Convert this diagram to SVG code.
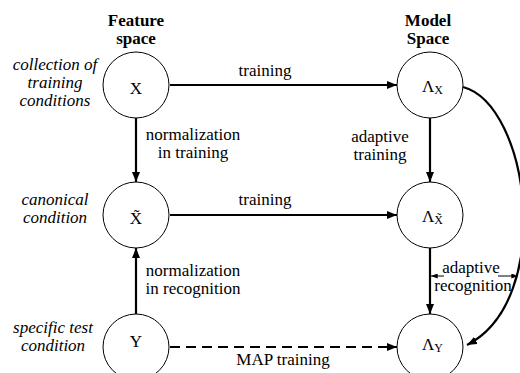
<svg xmlns="http://www.w3.org/2000/svg" width="520" height="373" viewBox="0 0 520 373" font-family="'Liberation Serif', 'DejaVu Serif', serif">
  <style>
    text { font-family: "Liberation Serif", "DejaVu Serif", serif; font-size: 17px; fill: #000; }
    .hd { font-weight: bold; text-anchor: middle; }
    .it { font-style: italic; text-anchor: middle; }
    .lb { text-anchor: middle; }
    .node circle { fill: #fff; stroke: #000; stroke-width: 1; }
    .sym { text-anchor: middle; }
    .sub { font-size: 12px; }
    .edge { fill: none; stroke: #000; stroke-width: 2.2; }
    .thin { fill: none; stroke: #000; stroke-width: 1; }
    .dash { stroke-dasharray: 10 6; }
  </style>
  <defs>
    <marker id="ah" viewBox="0 0 10 8" refX="10" refY="4" markerWidth="10" markerHeight="8" markerUnits="userSpaceOnUse" orient="auto">
      <path d="M0,0 L10,4 L0,8 z" fill="#000"/>
    </marker>
    <marker id="ahs" viewBox="0 0 8 6" refX="8" refY="3" markerWidth="7" markerHeight="5" markerUnits="userSpaceOnUse" orient="auto-start-reverse">
      <path d="M0,0 L8,3 L0,6 z" fill="#000"/>
    </marker>
  </defs>

  <!-- column headings -->
  <text class="hd" x="136" y="26">Feature</text>
  <text class="hd" x="136" y="44">space</text>
  <text class="hd" x="428" y="26">Model</text>
  <text class="hd" x="428" y="44">Space</text>

  <!-- row descriptions -->
  <text class="it" x="55" y="70">collection of</text>
  <text class="it" x="55" y="88">training</text>
  <text class="it" x="55" y="106">conditions</text>
  <text class="it" x="55" y="205">canonical</text>
  <text class="it" x="55" y="223">condition</text>
  <text class="it" x="53" y="333">specific test</text>
  <text class="it" x="53" y="351">condition</text>

  <!-- connectors -->
  <g id="connectors">
    <line class="edge" x1="170" y1="85" x2="397" y2="85" marker-end="url(#ah)"/>
    <line class="edge" x1="170" y1="215" x2="397" y2="215" marker-end="url(#ah)"/>
    <line class="edge dash" x1="170" y1="347" x2="397" y2="347" marker-end="url(#ah)"/>
    <line class="edge" x1="136" y1="118" x2="136" y2="182" marker-end="url(#ah)"/>
    <line class="edge" x1="136" y1="314" x2="136" y2="248" marker-end="url(#ah)"/>
    <line class="edge" x1="430" y1="118" x2="430" y2="182" marker-end="url(#ah)"/>
    <line class="edge" x1="430" y1="248" x2="430" y2="314" marker-end="url(#ah)"/>
    <path class="edge" d="M463,87 C530,105 555,300 467,345" marker-end="url(#ah)"/>
    <line class="thin" x1="431" y1="276" x2="444" y2="276" marker-start="url(#ahs)"/>
    <line class="thin" x1="498" y1="276" x2="518" y2="276" marker-end="url(#ahs)"/>

    <text class="lb" x="265" y="76">training</text>
    <text class="lb" x="265" y="205">training</text>
    <text class="lb" x="283" y="365">MAP training</text>
    <text class="lb" x="193" y="140">normalization</text>
    <text class="lb" x="193" y="158">in training</text>
    <text class="lb" x="380" y="142">adaptive</text>
    <text class="lb" x="380" y="160">training</text>
    <text class="lb" x="193" y="276">normalization</text>
    <text class="lb" x="193" y="294">in recognition</text>
    <text class="lb" x="471" y="273">adaptive</text>
    <text class="lb" x="473" y="291">recognition</text>
  </g>

  <!-- feature-space nodes -->
  <g id="node-x" class="node">
    <circle cx="136" cy="85" r="33"/>
    <text class="sym" x="136" y="94">X</text>
  </g>
  <g id="node-xtilde" class="node">
    <circle cx="136" cy="215" r="33"/>
    <text class="sym" x="136" y="224">X̃</text>
  </g>
  <g id="node-y" class="node">
    <circle cx="136" cy="347" r="33"/>
    <text class="sym" x="136" y="347">Y</text>
  </g>

  <!-- model-space nodes -->
  <g id="node-lx" class="node">
    <circle cx="430" cy="85" r="33"/>
    <text x="422" y="92">Λ<tspan class="sub" dy="2">X</tspan></text>
  </g>
  <g id="node-lxtilde" class="node">
    <circle cx="430" cy="215" r="33"/>
    <text x="422" y="222">Λ<tspan class="sub" dy="2">X̃</tspan></text>
  </g>
  <g id="node-ly" class="node">
    <circle cx="430" cy="347" r="33"/>
    <text x="422" y="350">Λ<tspan class="sub" dy="2">Y</tspan></text>
  </g>
</svg>
